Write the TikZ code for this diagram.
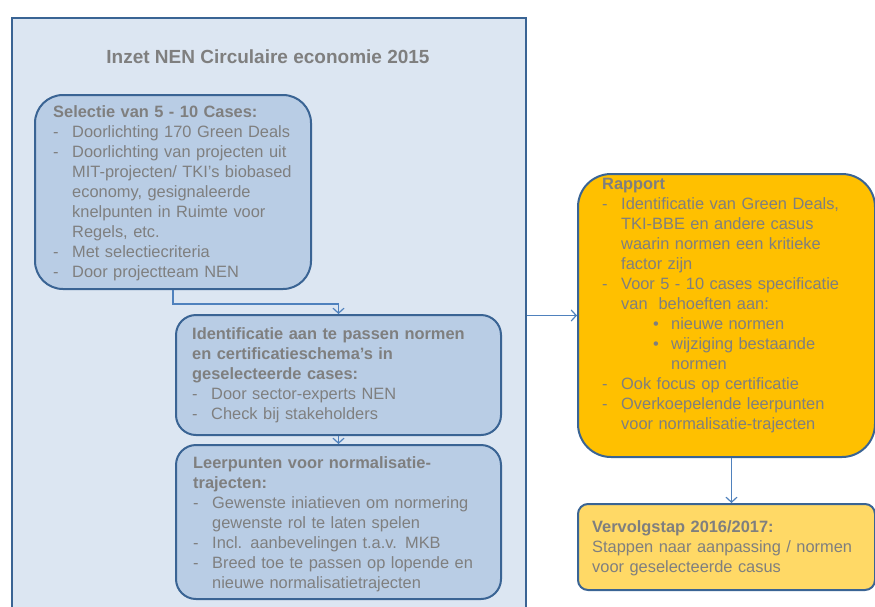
\documentclass[tikz,border=0pt]{standalone}
\usepackage{fontspec}
\setmainfont{Liberation Sans}
\usetikzlibrary{arrows.meta}
\definecolor{nenback}{HTML}{DCE6F2}
\definecolor{nenbox}{HTML}{B9CDE5}
\definecolor{nenline}{HTML}{3A6494}
\definecolor{nenarrow}{HTML}{4F81BD}
\definecolor{nentext}{HTML}{7F7F7F}
\definecolor{rapfill}{HTML}{FFC000}
\definecolor{vervfill}{HTML}{FFD966}
\newcommand{\dsh}{\makebox[19pt][l]{-}}
\newcommand{\ind}{\hspace*{19pt}}
\newcommand{\blt}{\hspace*{51pt}\makebox[18pt][l]{\textbullet}}
\newcommand{\bind}{\hspace*{69pt}}
\tikzset{
	casebox/.style={draw=nenline, line width=2pt, fill=nenbox, inner sep=0pt, anchor=north west},
	txt/.style={anchor=north west, inner sep=0pt, align=left, text width=320pt, text=nentext, font=\fontsize{16.4}{20}\selectfont},
	flow/.style={draw=nenarrow, line width=1.2pt, -{Straight Barb[length=5pt,width=11pt]}}
}
\begin{document}
\begin{tikzpicture}[x=1pt, y=-1pt]
		\clip (0, 0) rectangle (875, 606);
		%outer frame
		\node[draw=nenline, fill=nenback, line width=1.8pt, minimum width=514pt, minimum height=640pt, anchor=north west] (inzet) at (11, 17) {};
		\node[text=nentext, font=\bfseries\fontsize{19}{22}\selectfont] (titel) at (268, 57) {Inzet NEN Circulaire economie 2015};
		%cases
		\node[casebox, rounded corners=28pt, minimum width=276pt, minimum height=194pt] (selectie) at (34, 94) {};
		\node[casebox, rounded corners=20pt, minimum width=325pt, minimum height=120pt] (ident) at (175, 314) {};
		\node[casebox, rounded corners=20pt, minimum width=325pt, minimum height=154pt] (leer) at (175, 444) {};
		\node[txt] (selectie-txt) at (53, 105.5) {\textbf{Selectie van 5 - 10 Cases:}\\
			\dsh Doorlichting 170 Green Deals\\
			\dsh Doorlichting van projecten uit\\
			\ind MIT-projecten/ TKI’s biobased\\
			\ind economy, gesignaleerde\\
			\ind knelpunten in Ruimte voor\\
			\ind Regels, etc.\\
			\dsh Met selectiecriteria\\
			\dsh Door projectteam NEN};
		\node[txt] (ident-txt) at (192, 327.5) {\textbf{Identificatie aan te passen normen}\\
			\textbf{en certificatieschema’s in}\\
			\textbf{geselecteerde cases:}\\
			\dsh Door sector-experts NEN\\
			\dsh Check bij stakeholders};
		\node[txt] (leer-txt) at (193, 456.5) {\textbf{Leerpunten voor normalisatie-}\\
			\textbf{trajecten:}\\
			\dsh Gewenste iniatieven om normering\\
			\ind gewenste rol te laten spelen\\
			\dsh Incl. aanbevelingen t.a.v. MKB\\
			\dsh Breed toe te passen op lopende en\\
			\ind nieuwe normalisatietrajecten};
		%rapport
		\node[casebox, fill=rapfill, rounded corners=33pt, minimum width=297pt, minimum height=283pt] (rapport) at (577, 173) {};
		\node[txt] (rapport-txt) at (602, 178.5) {\textbf{Rapport}\\
			\dsh Identificatie van Green Deals,\\
			\ind TKI-BBE en andere casus\\
			\ind waarin normen een kritieke\\
			\ind factor zijn\\
			\dsh Voor 5 - 10 cases specificatie\\
			\ind van\ \ behoeften aan:\\
			\blt nieuwe normen\\
			\blt wijziging bestaande\\
			\bind normen\\
			\dsh Ook focus op certificatie\\
			\dsh Overkoepelende leerpunten\\
			\ind voor normalisatie-trajecten};
		\node[casebox, fill=vervfill, rounded corners=10pt, minimum width=297pt, minimum height=86pt] (verv) at (577, 503) {};
		\node[txt] (verv-txt) at (592, 520.5) {\textbf{Vervolgstap 2016/2017:}\\
			Stappen naar aanpassing / normen\\
			voor geselecteerde casus};
		%arrows
		\draw[flow] (selectie.south) -- ++(0, 14) -| (ident.north);
		\draw[flow] (ident.south) -- (leer.north);
		\draw[flow] (rapport.west -| inzet.east) -- (rapport.west);
		\draw[flow] ([xshift=5pt]rapport.south) -- ([xshift=5pt]verv.north);
\end{tikzpicture}
\end{document}
